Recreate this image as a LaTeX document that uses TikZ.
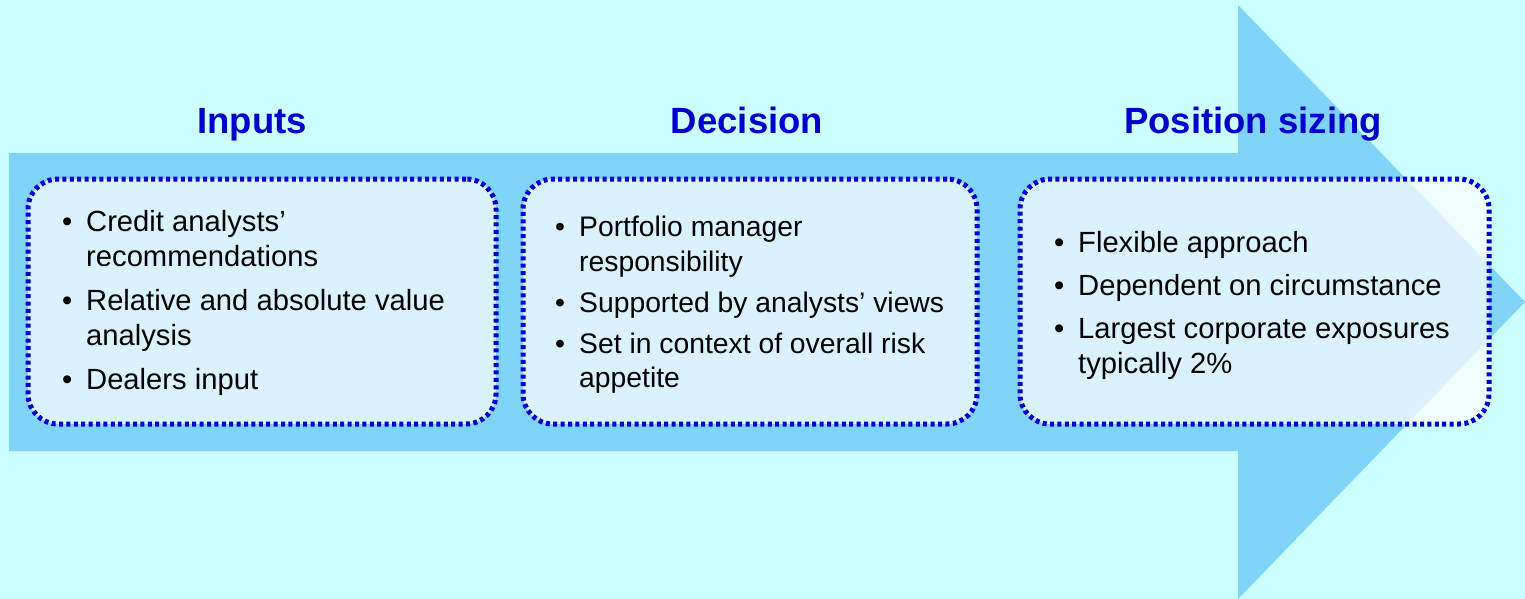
\documentclass[tikz,border=0pt]{standalone}
\usepackage{fontspec}
\setmainfont{Liberation Sans}
\definecolor{bgc}{HTML}{CCFFFF}
\definecolor{arrowc}{HTML}{80D4FA}
\definecolor{titlec}{HTML}{0000CC}
\definecolor{dotc}{HTML}{0000CC}
\newcommand{\bl}{\makebox[24pt][l]{\textbullet}}
\newcommand{\ind}{\hspace*{24pt}}
\tikzset{
  panel/.style={draw=dotc, line width=5pt, dash pattern=on 4pt off 3.4pt,
    rounded corners=30pt, fill=white, fill opacity=0.7,
    minimum height=245pt, inner sep=0pt},
  body/.style={anchor=west, inner sep=0pt, align=left, text=black,
    font=\fontsize{29.2}{35}\selectfont},
  ttl/.style={text=titlec, font=\fontsize{36.5}{40}\selectfont\bfseries, anchor=base, inner sep=0pt}
}
\begin{document}
\begin{tikzpicture}[x=1pt,y=-1pt]
\fill[bgc] (0,0) rectangle (1525,599);
\useasboundingbox (0,0) rectangle (1525,599);
\fill[arrowc] (9,153) -- (1238,153) -- (1238,5) -- (1525,302) -- (1238,599) -- (1238,451) -- (9,451) -- cycle;
\node[ttl] (t1) at (252,134) {Inputs};
\node[ttl] (t2) at (747,134) {Decision};
\node[ttl] (t3) at (1253,134) {Position sizing};
\node[panel, minimum width=468pt] (b1) at (262,301.5) {};
\node[panel, minimum width=454pt] (b2) at (750,301.5) {};
\node[panel, minimum width=469pt] (b3) at (1254.5,301.5) {};
\node[body] (l1) at (62,303) {\bl Credit analysts’\\ \ind recommendations\\[9pt] \bl Relative and absolute value\\ \ind analysis\\[9pt] \bl Dealers input};
\node[body, font=\fontsize{28.3}{34.3}\selectfont] (l2) at (555,305) {\bl Portfolio manager\\ \ind responsibility\\[7pt] \bl Supported by analysts’ views\\[7pt] \bl Set in context of overall risk\\ \ind appetite};
\node[body] (l3) at (1054,305) {\bl Flexible approach\\[8pt] \bl Dependent on circumstance\\[8pt] \bl Largest corporate exposures\\ \ind typically 2\%};
\end{tikzpicture}
\end{document}
